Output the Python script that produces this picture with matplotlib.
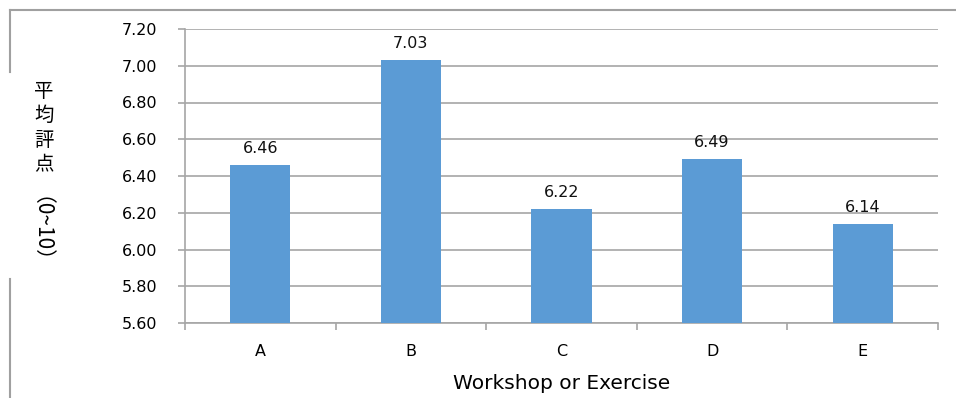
import matplotlib
matplotlib.use("Agg")
import matplotlib.pyplot as plt
from matplotlib.lines import Line2D
import numpy as np

# mean rating per workshop / exercise
categories = ["A", "B", "C", "D", "E"]
scores = [6.46, 7.03, 6.22, 6.49, 6.14]
yticks = [5.60, 5.80, 6.00, 6.20, 6.40, 6.60, 6.80, 7.00, 7.20]

bar_color = "#5B9BD5"
grid_color = "#a6a6a6"

plt.rcParams['font.family'] = ['DejaVu Sans', 'Noto Sans CJK JP']

fig = plt.figure(figsize=(9.56, 3.98), dpi=100)
ax = fig.add_axes([185 / 956, 1 - 323 / 398, (938 - 185) / 956, (323 - 29) / 398])

x = np.arange(len(categories))
ax.bar(x, scores, width=0.4, color=bar_color, zorder=3)

for xi, v in zip(x, scores):
    ax.text(xi, v + 0.05, f"{v:.2f}", ha="center", va="bottom", fontsize=11.5, color="#111111")

ax.set_xlim(-0.5, len(categories) - 0.5)
ax.set_ylim(yticks[0], yticks[-1])
ax.set_yticks(yticks)
ax.set_yticklabels([f"{t:.2f}" for t in yticks])
ax.yaxis.grid(True, color=grid_color, linewidth=1.2, zorder=0)

ax.set_xticks(x)
ax.set_xticklabels(categories)
ax.set_xticks(np.arange(len(categories) + 1) - 0.5, minor=True)
ax.tick_params(axis="x", which="major", length=0, pad=15, labelsize=11.5)
ax.tick_params(axis="x", which="minor", length=5, color=grid_color, width=1.2)
ax.tick_params(axis="y", length=5, color=grid_color, width=1.2, pad=15, labelsize=11.5)

for side in ["top", "right"]:
    ax.spines[side].set_visible(False)
for side in ["left", "bottom"]:
    ax.spines[side].set_color(grid_color)
    ax.spines[side].set_linewidth(1.2)

ax.set_xlabel("Workshop or Exercise", fontsize=14.5, labelpad=11)

# vertical y label: upright kanji, then the rotated range
fig.text(44 / 956, 1 - 128 / 398, "平\n均\n評\n点", ha="center", va="center",
         fontsize=14, family=['Noto Sans CJK JP'], linespacing=1.22)
fig.text(30 / 956, 1 - 240 / 398, "（0~10）", ha="center", va="center",
         fontsize=15, rotation=-90, rotation_mode="anchor",
         family=['Noto Sans CJK JP', 'DejaVu Sans'])

# outer frame, broken around the y label
frame_color = "#a0a0a0"
fig.add_artist(Line2D([10 / 956, 1], [1 - 10 / 398, 1 - 10 / 398], transform=fig.transFigure,
                      color=frame_color, linewidth=1.5))
fig.add_artist(Line2D([10 / 956, 10 / 956], [1 - 10 / 398, 1 - 72 / 398], transform=fig.transFigure,
                      color=frame_color, linewidth=1.5))
fig.add_artist(Line2D([10 / 956, 10 / 956], [1 - 279 / 398, 0], transform=fig.transFigure,
                      color=frame_color, linewidth=1.5))

fig.savefig("out.png", dpi=100)
